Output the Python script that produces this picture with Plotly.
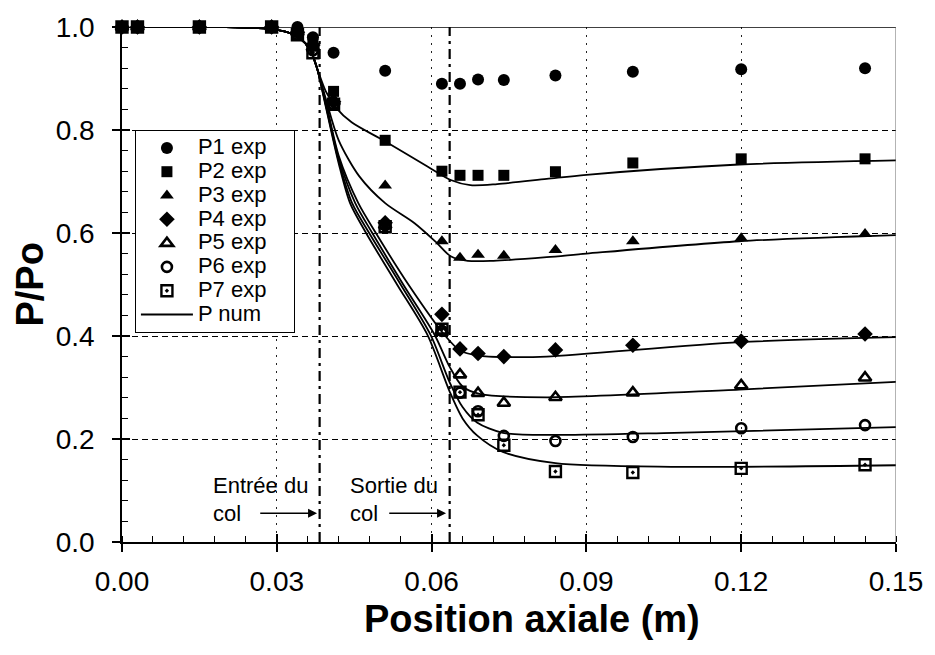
import plotly.graph_objects as go

# ---------------- data ----------------
x_exp = [0.0, 0.003, 0.015, 0.029, 0.034, 0.037, 0.041, 0.051, 0.062, 0.0655, 0.069, 0.074, 0.084, 0.099, 0.12, 0.144]
p1_exp = [1.0, 1.0, 1.0, 1.0, 1.0, 0.98, 0.95, 0.915, 0.89, 0.89, 0.898, 0.897, 0.906, 0.913, 0.918, 0.920]
p2_exp = [1.0, 1.0, 1.0, 1.0, 0.99, 0.975, 0.875, 0.78, 0.72, 0.712, 0.712, 0.712, 0.719, 0.736, 0.744, 0.744]
p3_exp = [1.0, 1.0, 1.0, 1.0, 0.99, 0.97, 0.86, 0.692, 0.584, 0.552, 0.558, 0.556, 0.567, 0.584, 0.590, 0.598]
p4_exp = [1.0, 1.0, 1.0, 1.0, 0.99, 0.965, 0.855, 0.62, 0.442, 0.375, 0.366, 0.36, 0.373, 0.382, 0.390, 0.404]
p5_exp = [1.0, 1.0, 1.0, 1.0, 0.99, 0.96, 0.855, 0.615, 0.41, 0.325, 0.289, 0.270, 0.281, 0.290, 0.304, 0.319]
p6_exp = [1.0, 1.0, 1.0, 1.0, 0.985, 0.955, 0.85, 0.615, 0.41, 0.29, 0.254, 0.206, 0.196, 0.204, 0.221, 0.227]
p7_exp = [1.0, 1.0, 1.0, 1.0, 0.985, 0.95, 0.85, 0.612, 0.413, 0.291, 0.247, 0.188, 0.137, 0.135, 0.143, 0.150]

x_num_start = [0.0, 0.02, 0.028, 0.032, 0.0345, 0.0365, 0.0378]
y_num_start = [1.0, 1.0, 0.997, 0.99, 0.978, 0.955, 0.92]

x_p2_num = [0.0395, 0.0415, 0.0445, 0.0508, 0.0592, 0.0637, 0.0675, 0.0727, 0.0823, 0.09, 0.1196, 0.15]
y_p2_num = [0.875, 0.843, 0.815, 0.779, 0.729, 0.703, 0.693, 0.695, 0.705, 0.713, 0.733, 0.741]
x_p3_num = [0.0395, 0.042, 0.046, 0.051, 0.0567, 0.061, 0.0637, 0.067, 0.072, 0.0823, 0.09, 0.1196, 0.15]
y_p3_num = [0.86, 0.78, 0.71, 0.658, 0.619, 0.581, 0.555, 0.546, 0.546, 0.553, 0.560, 0.584, 0.596]
x_p4_num = [0.0395, 0.042, 0.0458, 0.0492, 0.0555, 0.0625, 0.0655, 0.069, 0.075, 0.0823, 0.1196, 0.15]
y_p4_num = [0.855, 0.75, 0.658, 0.6, 0.50, 0.402, 0.372, 0.362, 0.359, 0.360, 0.388, 0.398]
x_p5_num = [0.0395, 0.042, 0.0452, 0.0485, 0.0545, 0.0606, 0.0635, 0.066, 0.0695, 0.0823, 0.1196, 0.15]
y_p5_num = [0.85, 0.745, 0.658, 0.6, 0.50, 0.402, 0.34, 0.302, 0.287, 0.281, 0.296, 0.311]
x_p6_num = [0.0395, 0.042, 0.0446, 0.0479, 0.054, 0.0598, 0.0635, 0.066, 0.0688, 0.0738, 0.084, 0.107, 0.15]
y_p6_num = [0.848, 0.74, 0.658, 0.6, 0.50, 0.402, 0.31, 0.262, 0.232, 0.212, 0.208, 0.212, 0.223]
x_p7_num = [0.0395, 0.042, 0.0442, 0.0473, 0.0533, 0.0592, 0.0635, 0.066, 0.0688, 0.0738, 0.084, 0.107, 0.15]
y_p7_num = [0.845, 0.735, 0.658, 0.6, 0.50, 0.402, 0.292, 0.240, 0.207, 0.175, 0.153, 0.146, 0.149]

x_entree = 0.0383
x_sortie = 0.0635

x_ticks = [0.0, 0.03, 0.06, 0.09, 0.12, 0.15]
y_ticks = [0.0, 0.2, 0.4, 0.6, 0.8, 1.0]

FONT = "Liberation Sans, Arial, sans-serif"


def leg(name):
    return "<span style='font-size:22px'>" + name + "</span>" + "\u00a0" * 5


fig = go.Figure()

exp_series = [
    ("P1 exp", p1_exp, dict(symbol="circle", size=12, color="black")),
    ("P2 exp", p2_exp, dict(symbol="square", size=11, color="black")),
    ("P3 exp", p3_exp, dict(symbol="triangle-up", size=12, color="black")),
    ("P4 exp", p4_exp, dict(symbol="diamond", size=12, color="black")),
    ("P5 exp", p5_exp, dict(symbol="triangle-up-open", size=11, color="black", line=dict(width=2.6, color="black"))),
    ("P6 exp", p6_exp, dict(symbol="circle-open", size=10, color="black", line=dict(width=2.6, color="black"))),
    ("P7 exp", p7_exp, dict(symbol="square-open-dot", size=11, color="black", line=dict(width=2.4, color="black"))),
]
for name, ys, mk in exp_series:
    fig.add_trace(go.Scatter(x=x_exp, y=ys, mode="markers", name=leg(name), marker=mk,
                             cliponaxis=False))

num_series = [(x_p2_num, y_p2_num), (x_p3_num, y_p3_num), (x_p4_num, y_p4_num),
              (x_p5_num, y_p5_num), (x_p6_num, y_p6_num), (x_p7_num, y_p7_num)]
for i, (xs, ys) in enumerate(num_series):
    fig.add_trace(go.Scatter(x=x_num_start + xs, y=y_num_start + ys, mode="lines",
                             name=leg("P num"), legendgroup="num", showlegend=(i == 0),
                             line=dict(color="black", width=1.8, shape="spline", smoothing=0.8)))

# dummy trace for overlay axes (inside major ticks)
fig.add_trace(go.Scatter(x=[None], y=[None], xaxis="x2", yaxis="y2", showlegend=False,
                         hoverinfo="skip", mode="markers"))

# dash-dot throat lines
for xv in [x_entree, x_sortie]:
    fig.add_shape(type="line", x0=xv, x1=xv, y0=0, y1=1.0, xref="x", yref="y",
                  line=dict(color="black", width=2.2, dash="10px,5px,3px,5px"))
# top and right border
fig.add_shape(type="line", x0=0, x1=0.15, y0=1.0, y1=1.0, xref="x", yref="y",
              line=dict(color="black", width=1.3))
fig.add_shape(type="line", x0=0.15, x1=0.15, y0=0, y1=1.0, xref="x", yref="y",
              line=dict(color="#666", width=1))

ann_font = dict(family=FONT, size=22, color="black")
fig.add_annotation(x=0.0173, y=0.11, text="Entrée du", showarrow=False, xanchor="left",
                   yanchor="middle", font=ann_font)
fig.add_annotation(x=0.0173, y=0.056, text="col", showarrow=False, xanchor="left",
                   yanchor="middle", font=ann_font)
fig.add_annotation(x=0.0438, y=0.11, text="Sortie du", showarrow=False, xanchor="left",
                   yanchor="middle", font=ann_font)
fig.add_annotation(x=0.0438, y=0.056, text="col", showarrow=False, xanchor="left",
                   yanchor="middle", font=ann_font)
fig.add_annotation(x=0.0378, y=0.056, ax=0.0265, ay=0.056, axref="x", ayref="y",
                   xref="x", yref="y", text="", showarrow=True, arrowhead=2,
                   arrowsize=1.2, arrowwidth=1.5, arrowcolor="black")
fig.add_annotation(x=0.0628, y=0.056, ax=0.0515, ay=0.056, axref="x", ayref="y",
                   xref="x", yref="y", text="", showarrow=True, arrowhead=2,
                   arrowsize=1.2, arrowwidth=1.5, arrowcolor="black")

# axis titles
fig.add_annotation(x=0.53, y=-0.15, xref="paper", yref="paper", text="<b>Position axiale (m)</b>",
                   showarrow=False, xanchor="center", yanchor="middle",
                   font=dict(family=FONT, size=38, color="black"))
fig.add_annotation(x=-0.12, y=0.5, xref="paper", yref="paper", text="<b>P/Po</b>",
                   showarrow=False, xanchor="center", yanchor="middle", textangle=-90,
                   font=dict(family=FONT, size=38, color="black"))

tick_font = dict(family=FONT, size=28, color="black")
fig.update_layout(
    width=935, height=655,
    margin=dict(l=122, r=33, t=22, b=113),
    paper_bgcolor="white", plot_bgcolor="white",
    font=dict(family=FONT, color="black"),
    showlegend=True,
    legend=dict(x=0.0167, y=0.8, xanchor="left", yanchor="top",
                bgcolor="white", bordercolor="black", borderwidth=1,
                font=dict(family=FONT, size=16, color="black"),
                itemwidth=52, tracegroupgap=0),
    xaxis=dict(range=[0, 0.15], tickvals=x_ticks, tickformat=".2f",
               ticks="outside", ticklen=8, tickwidth=1.5, tickcolor="black",
               ticklabelstandoff=6,
               showline=True, linecolor="black", linewidth=1.5,
               showgrid=True, gridcolor="#222", griddash="2px,6px", gridwidth=1,
               zeroline=False, tickfont=tick_font,
               minor=dict(ticks="inside", ticklen=6, tickwidth=1, tickcolor="black",
                          dtick=0.006, tick0=0, showgrid=False)),
    yaxis=dict(range=[0, 1.0], tickvals=y_ticks, tickformat=".1f",
               ticks="outside", ticklen=8, tickwidth=1.5, tickcolor="black",
               ticklabelstandoff=12,
               showline=True, linecolor="black", linewidth=1.5,
               showgrid=True, gridcolor="black", griddash="6px,4px", gridwidth=1,
               zeroline=False, tickfont=tick_font,
               minor=dict(ticks="inside", ticklen=6, tickwidth=1, tickcolor="black",
                          dtick=0.04, tick0=0, showgrid=False)),
    xaxis2=dict(overlaying="x", anchor="y2", range=[0, 0.15], tickvals=x_ticks,
                ticks="inside", ticklen=8, tickwidth=1.5, tickcolor="black",
                showticklabels=False, showgrid=False, zeroline=False, showline=False),
    yaxis2=dict(overlaying="y", anchor="x2", range=[0, 1.0], tickvals=y_ticks,
                ticks="inside", ticklen=8, tickwidth=1.5, tickcolor="black",
                showticklabels=False, showgrid=False, zeroline=False, showline=False),
)

fig.write_html("out.html")
